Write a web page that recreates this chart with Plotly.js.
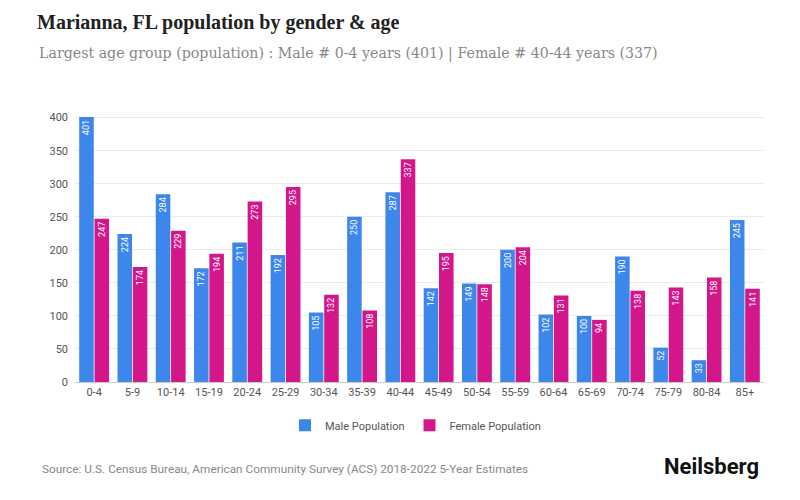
<!DOCTYPE html>
<html>
<head>
<meta charset="utf-8">
<script src="https://cdn.plot.ly/plotly-3.0.1.min.js"></script>
<style>html,body{margin:0;padding:0;background:#fff}#chart{width:800px;height:500px}</style>
</head>
<body>
<div id="chart"></div>
<script>
const categories = ["0-4","5-9","10-14","15-19","20-24","25-29","30-34","35-39","40-44","45-49","50-54","55-59","60-64","65-69","70-74","75-79","80-84","85+"];
const malePopulation = [401,224,284,172,211,192,105,250,287,142,149,200,102,100,190,52,33,245];
const femalePopulation = [247,174,229,194,273,295,132,108,337,195,148,204,131,94,138,143,158,141];
const yTicks = [0,50,100,150,200,250,300,350,400];

const maleColor = '#3d86ec';
const femaleColor = '#d3168a';

const common = {
  type: 'bar',
  x: categories,
  textposition: 'inside',
  insidetextanchor: 'end',
  textangle: -90,
  textfont: {family: 'Roboto, sans-serif', size: 9, color: '#ffffff'},
  constraintext: 'none',
  cliponaxis: false,
  hoverinfo: 'skip'
};

const traces = [
  Object.assign({}, common, {
    name: 'Male Population',
    y: malePopulation,
    text: malePopulation.map(String),
    marker: {color: maleColor}
  }),
  Object.assign({}, common, {
    name: 'Female Population',
    y: femalePopulation,
    text: femalePopulation.map(String),
    marker: {color: femaleColor}
  })
];

const layout = {
  width: 800,
  height: 500,
  paper_bgcolor: '#ffffff',
  plot_bgcolor: '#ffffff',
  margin: {l: 75, r: 36, t: 111, b: 118},
  barmode: 'group',
  bargap: 0.2,
  bargroupgap: 0.05,
  showlegend: true,
  legend: {
    orientation: 'h',
    x: 0.5 - 4/689, xanchor: 'center',
    y: -0.16, yanchor: 'middle',
    font: {family: 'Roboto, sans-serif', size: 11, color: '#555555'},
    itemwidth: 30,
    traceorder: 'normal'
  },
  title: {
    text: '<b>Marianna, FL population by gender &amp; age</b>',
    font: {family: 'Liberation Serif, serif', size: 20, color: '#222222'},
    x: 37/800, xanchor: 'left', xref: 'container',
    y: 1 - 22/500, yanchor: 'middle', yref: 'container'
  },
  xaxis: {
    type: 'category',
    tickfont: {family: 'Roboto, sans-serif', size: 11, color: '#555555'},
    showgrid: false,
    showline: true,
    linecolor: '#cccccc',
    linewidth: 1,
    ticks: '',
    fixedrange: true
  },
  yaxis: {
    range: [0, 410],
    tickvals: yTicks,
    ticktext: yTicks.map(String),
    tickfont: {family: 'Roboto, sans-serif', size: 11, color: '#555555'},
    showgrid: true,
    gridcolor: '#ececec',
    gridwidth: 1,
    zeroline: false,
    showline: false,
    ticks: '',
    ticklabelstandoff: 6,
    fixedrange: true
  },
  annotations: [
    {
      text: 'Largest age group (population) : Male # 0-4 years (401) | Female # 40-44 years (337)',
      xref: 'paper', yref: 'paper',
      x: (37-75)/689, y: 1 + (111-53)/271,
      xanchor: 'left', yanchor: 'middle',
      showarrow: false,
      font: {family: 'DejaVu Serif, serif', size: 14.2, color: '#888888'}
    },
    {
      text: 'Source: U.S. Census Bureau, American Community Survey (ACS) 2018-2022 5-Year Estimates',
      xref: 'paper', yref: 'paper',
      x: (40-75)/689, y: -(469-382)/271,
      xanchor: 'left', yanchor: 'middle',
      showarrow: false,
      font: {family: 'Roboto, sans-serif', size: 11.8, color: '#888888'}
    },
    {
      text: '<b>Neilsberg</b>',
      xref: 'paper', yref: 'paper',
      x: (761-75)/689, y: -(466-382)/271,
      xanchor: 'right', yanchor: 'middle',
      showarrow: false,
      font: {family: 'Roboto, sans-serif', size: 22, color: '#111111'}
    }
  ]
};

Plotly.newPlot('chart', traces, layout, {displayModeBar: false, staticPlot: true});
</script>
</body>
</html>
